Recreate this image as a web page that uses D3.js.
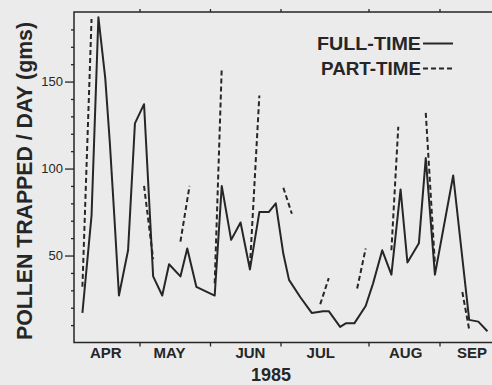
<!DOCTYPE html>
<html>
<head>
<meta charset="utf-8">
<script src="https://cdn.jsdelivr.net/npm/d3@7"></script>
<style>
  body { margin: 0; background: #ebebeb; }
  svg { display: block; font-family: "Liberation Sans", Arial, sans-serif; }
</style>
</head>
<body>
<div class="chart"></div>
<script>
// full-time colonies
const fullDates = [
  "1985-04-06", "1985-04-10", "1985-04-13", "1985-04-16", "1985-04-18", "1985-04-20", "1985-04-22", "1985-04-26", "1985-04-29",
  "1985-05-03", "1985-05-07", "1985-05-11", "1985-05-14", "1985-05-19", "1985-05-22", "1985-05-26",
  "1985-06-03", "1985-06-06", "1985-06-10", "1985-06-14", "1985-06-18", "1985-06-22", "1985-06-26", "1985-06-29",
  "1985-07-02", "1985-07-04", "1985-07-08", "1985-07-12", "1985-07-16", "1985-07-18", "1985-07-22", "1985-07-24", "1985-07-27", "1985-07-31",
  "1985-08-03", "1985-08-07", "1985-08-11", "1985-08-15", "1985-08-18", "1985-08-23", "1985-08-26", "1985-08-30",
  "1985-09-07", "1985-09-14", "1985-09-18", "1985-09-22"
]
const fullValues = [
  17, 73, 187, 152, 115, 72, 27, 53, 126,
  137, 38, 27, 45, 38, 54, 32,
  27, 90, 59, 69, 42, 75, 75, 80,
  51, 36, 26, 17, 18, 18, 9, 11, 11, 21,
  34, 53, 39, 88, 46, 57, 106, 39,
  96, 13, 12, 6.5
]

// part-time colonies: broken pieces, null = gap
const partDates = [
  "1985-04-06", "1985-04-10", null,
  "1985-05-03", "1985-05-07", null,
  "1985-05-19", "1985-05-23", null,
  "1985-06-03", "1985-06-06", null,
  "1985-06-18", "1985-06-22", null,
  "1985-07-02", "1985-07-05", null,
  "1985-07-15", "1985-07-18", null,
  "1985-07-28", "1985-07-31", null,
  "1985-08-11", "1985-08-14", null,
  "1985-08-26", "1985-08-30", null,
  "1985-09-11", "1985-09-14"
]
const partValues = [
  32, 186, null,
  90, 48, null,
  58, 90, null,
  34, 158, null,
  44, 142, null,
  89, 74, null,
  22, 37, null,
  31, 54, null,
  53, 124, null,
  132, 45, null,
  29, 7.5
]

const monthTicks = ["1985-05-01", "1985-06-01", "1985-07-01", "1985-08-01", "1985-09-01"]
const monthLabelDates = ["1985-04-16", "1985-05-14", "1985-06-18", "1985-07-15", "1985-08-17", "1985-09-15"]
const monthLabels = ["APR", "MAY", "JUN", "JUL", "AUG", "SEP"]
const yMajor = [50, 100, 150]
const yMinor = d3.range(10, 190, 10)

const parse = d3.timeParse("%Y-%m-%d")
const width = 492
const height = 385
const plot = { left: 74, right: 492, top: 12, bottom: 342.5 }
const ink = "#262626"

const full = fullDates.map((d, i) => ({ x: parse(d), y: fullValues[i] }))
const part = partDates.map((d, i) => ({ x: d ? parse(d) : null, y: partValues[i] }))

// the hand-drawn month ticks are not evenly spaced, so a piecewise time scale
const xScale = d3.scaleTime()
  .domain(["1985-04-01", "1985-05-01", "1985-06-01", "1985-07-01", "1985-08-01", "1985-09-01", "1985-10-01"].map(parse))
  .range([71, 139.5, 210, 280.5, 368.5, 439.5, 508])

const yScale = d3.scaleLinear()
  .domain([0, 190])
  .range([plot.bottom, plot.top])

const svg = d3.select(".chart")
  .append("svg")
  .attr("width", width)
  .attr("height", height)

svg.append("rect")
  .attr("width", width)
  .attr("height", height)
  .attr("fill", "#ebebeb")

// frame: top, left, bottom
svg.append("path")
  .attr("d", `M${plot.right},${plot.top}H${plot.left}V${plot.bottom}H${plot.right}`)
  .attr("fill", "none")
  .attr("stroke", ink)
  .attr("stroke-width", 1.5)

const styleAxis = g => {
  g.select(".domain").remove()
  g.selectAll("line").attr("stroke", ink).attr("stroke-width", 1.3)
  g.selectAll("text").attr("fill", ink)
}

svg.append("g")
  .attr("transform", `translate(0, ${plot.bottom})`)
  .call(d3.axisBottom(xScale).tickValues(monthTicks.map(parse)).tickSize(4).tickFormat(""))
  .call(styleAxis)

svg.append("g")
  .attr("transform", `translate(0, ${plot.top})`)
  .call(d3.axisTop(xScale).tickValues(monthTicks.map(parse)).tickSize(3).tickFormat(""))
  .call(styleAxis)

svg.append("g")
  .attr("transform", `translate(0, ${plot.bottom})`)
  .call(d3.axisBottom(xScale).tickValues(monthLabelDates.map(parse)).tickSize(0).tickPadding(5)
    .tickFormat((d, i) => monthLabels[i]))
  .call(styleAxis)
  .selectAll("text")
  .attr("font-size", 15)
  .attr("font-weight", "bold")
  .attr("font-family", "Liberation Sans, Arial, sans-serif")

svg.append("g")
  .attr("transform", `translate(${plot.left}, 0)`)
  .call(d3.axisLeft(yScale).tickValues(yMinor.filter(v => !yMajor.includes(v))).tickSize(3).tickFormat(""))
  .call(styleAxis)

svg.append("g")
  .attr("transform", `translate(${plot.left}, 0)`)
  .call(d3.axisLeft(yScale).tickValues(yMajor).tickSize(9).tickPadding(2))
  .call(styleAxis)
  .selectAll("text")
  .attr("font-size", 13)
  .attr("font-family", "Liberation Sans, Arial, sans-serif")

svg.append("text")
  .attr("transform", `translate(32, 181) rotate(-90)`)
  .attr("text-anchor", "middle")
  .attr("font-size", 22)
  .attr("font-weight", "bold")
  .attr("textLength", 318)
  .attr("lengthAdjust", "spacingAndGlyphs")
  .attr("fill", ink)
  .text("POLLEN TRAPPED / DAY (gms)")

svg.append("text")
  .attr("x", 271)
  .attr("y", 381)
  .attr("text-anchor", "middle")
  .attr("font-size", 18)
  .attr("font-weight", "bold")
  .attr("fill", ink)
  .text("1985")

const line = d3.line()
  .defined(d => d.y != null)
  .x(d => xScale(d.x))
  .y(d => yScale(d.y))

svg.append("path")
  .datum(full)
  .attr("fill", "none")
  .attr("stroke", ink)
  .attr("stroke-width", 2)
  .attr("stroke-linejoin", "round")
  .attr("d", line)

svg.append("path")
  .datum(part)
  .attr("fill", "none")
  .attr("stroke", ink)
  .attr("stroke-width", 2)
  .attr("stroke-dasharray", "5,3")
  .attr("d", line)

// legend
const legend = svg.append("g")
const legendItems = [
  { label: "FULL-TIME", dash: null, y: 50, len: 104 },
  { label: "PART-TIME", dash: "5,3", y: 75, len: 100 }
]
legendItems.forEach(item => {
  legend.append("text")
    .attr("x", 421)
    .attr("y", item.y)
    .attr("text-anchor", "end")
    .attr("font-size", 18)
    .attr("font-weight", "bold")
    .attr("textLength", item.len)
    .attr("lengthAdjust", "spacingAndGlyphs")
    .attr("fill", ink)
    .text(item.label)
  legend.append("line")
    .attr("x1", 423)
    .attr("x2", 453)
    .attr("y1", item.y - 6.5)
    .attr("y2", item.y - 6.5)
    .attr("stroke", ink)
    .attr("stroke-width", 2)
    .attr("stroke-dasharray", item.dash)
})
</script>
</body>
</html>
